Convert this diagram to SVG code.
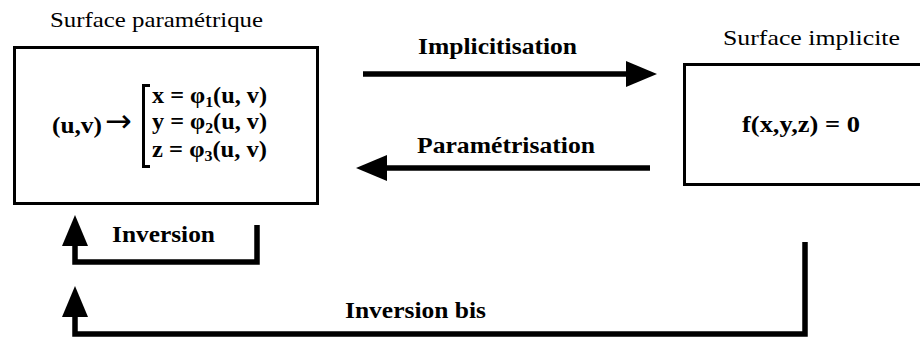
<svg xmlns="http://www.w3.org/2000/svg" width="920" height="341" viewBox="0 0 920 341">
  <style>
    .title { font-family: "Liberation Serif", "Times New Roman", Times, serif; font-size: 22px; fill: #000; }
    .label { font-family: "Liberation Serif", "Times New Roman", Times, serif; font-size: 23px; font-weight: bold; fill: #000; }
    .math { font-family: "Liberation Serif", "Times New Roman", Times, serif; font-size: 23px; font-weight: bold; fill: #000; }
    .maps { font-family: "DejaVu Sans", sans-serif; font-size: 32px; fill: #000; }
    .sub { font-size: 15px; }
    .box { fill: #fff; stroke: #000; stroke-width: 3; }
    .edge { fill: none; stroke: #000; stroke-width: 5.5; stroke-linejoin: miter; }
    .bracket { fill: none; stroke: #000; stroke-width: 3; }
  </style>
  <defs>
    <marker id="head" markerUnits="userSpaceOnUse" markerWidth="40" markerHeight="40" refX="1" refY="0" orient="auto" overflow="visible">
      <path d="M0,-13 L31,0 L0,13 Z" fill="#000"/>
    </marker>
  </defs>

  <rect width="920" height="341" fill="#fff"/>

  <!-- parametric surface -->
  <g id="parametric">
    <text class="title" x="50" y="27" textLength="213" lengthAdjust="spacingAndGlyphs">Surface paramétrique</text>
    <rect class="box" x="14.5" y="47.5" width="303" height="156"/>
    <text class="math" x="52" y="133" textLength="50" lengthAdjust="spacingAndGlyphs">(u,v)</text>
    <text class="maps" x="105" y="132">→</text>
    <path class="bracket" d="M150,85.5 H143.5 V166.5 H150"/>
    <text class="math" x="152" y="103" textLength="115" lengthAdjust="spacingAndGlyphs">x = φ<tspan class="sub" dy="4">1</tspan><tspan dy="-4">(u, v)</tspan></text>
    <text class="math" x="152" y="129" textLength="115" lengthAdjust="spacingAndGlyphs">y = φ<tspan class="sub" dy="4">2</tspan><tspan dy="-4">(u, v)</tspan></text>
    <text class="math" x="152" y="157" textLength="115" lengthAdjust="spacingAndGlyphs">z = φ<tspan class="sub" dy="4">3</tspan><tspan dy="-4">(u, v)</tspan></text>
  </g>

  <!-- implicit surface -->
  <g id="implicit">
    <text class="title" x="723" y="45" textLength="177" lengthAdjust="spacingAndGlyphs">Surface implicite</text>
    <rect class="box" x="684.5" y="64.5" width="260" height="120"/>
    <text class="math" x="742" y="132" textLength="118" lengthAdjust="spacingAndGlyphs">f(x,y,z) = 0</text>
  </g>

  <!-- transformations between the two forms -->
  <g id="connectors">
    <path class="edge" d="M363,74 H627" marker-end="url(#head)"/>
    <path class="edge" d="M650,168 H386" marker-end="url(#head)"/>
    <path class="edge" d="M257,225 V262 H75 V245" marker-end="url(#head)"/>
    <path class="edge" d="M805,242 V334 H75 V316" marker-end="url(#head)"/>
    <text class="label" x="418" y="54" textLength="159" lengthAdjust="spacingAndGlyphs">Implicitisation</text>
    <text class="label" x="417" y="153" textLength="178" lengthAdjust="spacingAndGlyphs">Paramétrisation</text>
    <text class="label" x="112" y="242" textLength="103" lengthAdjust="spacingAndGlyphs">Inversion</text>
    <text class="label" x="345" y="318" textLength="141" lengthAdjust="spacingAndGlyphs">Inversion bis</text>
  </g>
</svg>
